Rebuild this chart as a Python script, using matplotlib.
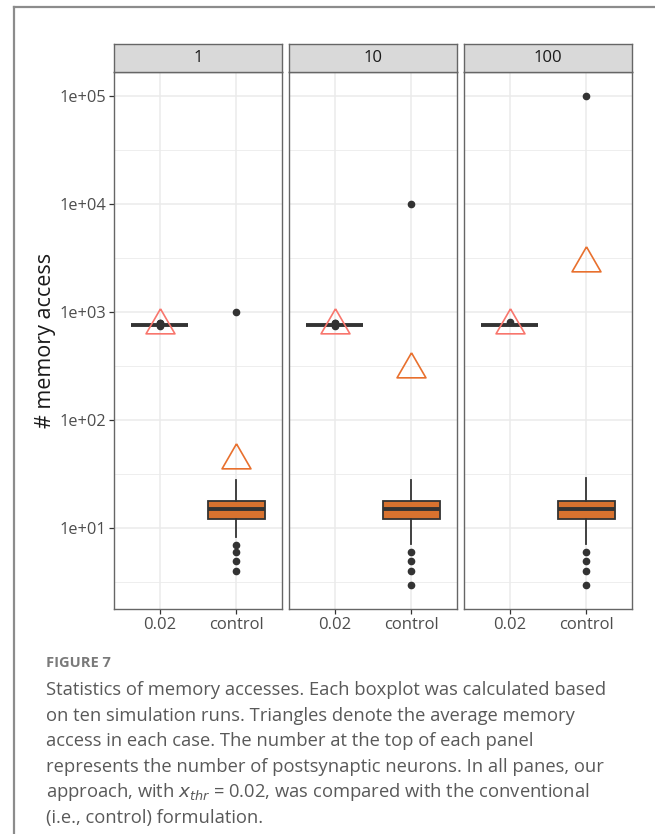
import numpy as np
import matplotlib
matplotlib.use("Agg")
import matplotlib.pyplot as plt
from matplotlib.lines import Line2D

plt.rcParams['font.family'] = ['Open Sans', 'DejaVu Sans']
plt.rcParams['mathtext.fontset'] = 'dejavusans'

# facets = number of postsynaptic neurons
panels = ["1", "10", "100"]
groups = ["0.02", "control"]

# x_thr = 0.02 boxes (all runs nearly identical)
thr_q1 = [770, 770, 770]
thr_med = [770, 770, 770]
thr_q3 = [770, 770, 770]
thr_whislo = [770, 770, 770]
thr_whishi = [770, 770, 770]
thr_fliers = [[740, 755, 790, 800], [740, 755, 790, 800], [805]]
thr_mean = [760, 760, 760]

# control boxes
ctl_q1 = [12.1, 12.1, 12.1]
ctl_med = [15.2, 15.1, 15.1]
ctl_q3 = [17.7, 17.7, 17.7]
ctl_whislo = [8.3, 7.1, 7.1]
ctl_whishi = [28, 28, 29]
ctl_fliers = [[4, 5, 6, 7, 1000], [3, 4, 5, 6, 10000], [3, 4, 5, 6, 100000]]
ctl_mean = [43, 300, 2850]

y_ticks = [1e1, 1e2, 1e3, 1e4, 1e5]
y_ticklabels = ["1e+01", "1e+02", "1e+03", "1e+04", "1e+05"]

box_fill = "#D8722F"
thr_tri = "#F8766D"
ctl_tri = "#E8702E"
dark = "#333333"

# R-style triangle (data point at centroid)
tri = [(0, 1.5551), (1.3468, -0.7776), (-1.3468, -0.7776), (0, 1.5551)]

W, H = 655, 834
fig = plt.figure(figsize=(W / 100, H / 100), dpi=100)

left, pw, gap = 114, 168, 7
top, bottom, strip_h = 72, 609, 28
ylo, yhi = 10 ** 0.252, 10 ** 5.226

for i, p in enumerate(panels):
    x0 = left + i * (pw + gap)
    ax = fig.add_axes([x0 / W, 1 - bottom / H, pw / W, (bottom - top) / H])
    sax = fig.add_axes([x0 / W, 1 - top / H, pw / W, strip_h / H])

    stats = [
        dict(q1=thr_q1[i], med=thr_med[i], q3=thr_q3[i], whislo=thr_whislo[i],
             whishi=thr_whishi[i], fliers=thr_fliers[i]),
        dict(q1=ctl_q1[i], med=ctl_med[i], q3=ctl_q3[i], whislo=ctl_whislo[i],
             whishi=ctl_whishi[i], fliers=ctl_fliers[i]),
    ]
    bp = ax.bxp(stats, positions=[0, 1], widths=0.75, patch_artist=True,
                showcaps=False,
                boxprops=dict(edgecolor=dark, linewidth=1.3),
                medianprops=dict(color=dark, linewidth=2.8, solid_capstyle='butt'),
                whiskerprops=dict(color=dark, linewidth=1.3),
                flierprops=dict(marker='o', markerfacecolor=dark, markeredgecolor=dark,
                                markersize=4.5, linestyle='none'),
                zorder=3)
    bp['boxes'][0].set_facecolor(box_fill)
    bp['boxes'][1].set_facecolor(box_fill)

    ax.plot([0], [thr_mean[i]], marker=tri, markersize=24, markerfacecolor='none',
            markeredgecolor=thr_tri, markeredgewidth=1.2, linestyle='none', zorder=4)
    ax.plot([1], [ctl_mean[i]], marker=tri, markersize=24, markerfacecolor='none',
            markeredgecolor=ctl_tri, markeredgewidth=1.2, linestyle='none', zorder=4)

    ax.set_yscale('log')
    ax.set_ylim(ylo, yhi)
    ax.set_xlim(-0.6, 1.6)
    ax.set_yticks(y_ticks)
    ax.set_yticks([10 ** (k + 0.5) for k in range(0, 5)], minor=True)
    ax.set_xticks([0, 1])
    ax.set_xticklabels(groups)
    ax.grid(which='major', color='#EBEBEB', linewidth=1.1, zorder=0)
    ax.grid(which='minor', axis='y', color='#EBEBEB', linewidth=0.6, zorder=0)
    ax.set_axisbelow(True)
    ax.tick_params(axis='x', length=3.5, width=0.9, color=dark, labelsize=12,
                   labelcolor='#4D4D4D', pad=2)
    ax.tick_params(axis='y', which='minor', length=0)
    if i == 0:
        ax.set_yticklabels(y_ticklabels)
        ax.tick_params(axis='y', which='major', length=3.5, width=0.9, color=dark,
                       labelsize=11.8, labelcolor='#4D4D4D', pad=2)
    else:
        ax.tick_params(axis='y', which='major', length=0, labelleft=False)
    for s in ax.spines.values():
        s.set_color('#666666')
        s.set_linewidth(1.0)

    sax.set_facecolor('#D9D9D9')
    sax.set_xticks([])
    sax.set_yticks([])
    for s in sax.spines.values():
        s.set_color('#666666')
        s.set_linewidth(1.0)
    sax.text(0.5, 0.5, p, ha='center', va='center', fontsize=12, color='#1A1A1A',
             transform=sax.transAxes)

fig.text(46 / W, 1 - 340 / H, "# memory access", rotation=90, ha='center', va='center',
         fontsize=15.5, color='#1A1A1A')

# frame lines
fig.add_artist(Line2D([14 / W, 14 / W], [0, 1 - 7 / H], color='#8C8C8C', linewidth=1.6))
fig.add_artist(Line2D([14 / W, 1], [1 - 7 / H, 1 - 7 / H], color='#8C8C8C', linewidth=1.6))

# caption
fig.text(46 / W, 1 - 663 / H, "FIGURE 7", ha='left', va='center', fontsize=10.5,
         fontweight='bold', color='#7A7A7A')
caption = [
    "Statistics of memory accesses. Each boxplot was calculated based",
    "on ten simulation runs. Triangles denote the average memory",
    "access in each case. The number at the top of each panel",
    "represents the number of postsynaptic neurons. In all panes, our",
    r"approach, with $x_{thr}$ = 0.02, was compared with the conventional",
    "(i.e., control) formulation.",
]
for k, line in enumerate(caption):
    fig.text(46 / W, 1 - (690 + 25.6 * k) / H, line, ha='left', va='center',
             fontsize=13.2, color='#595959')

fig.savefig("out.png", dpi=100)
